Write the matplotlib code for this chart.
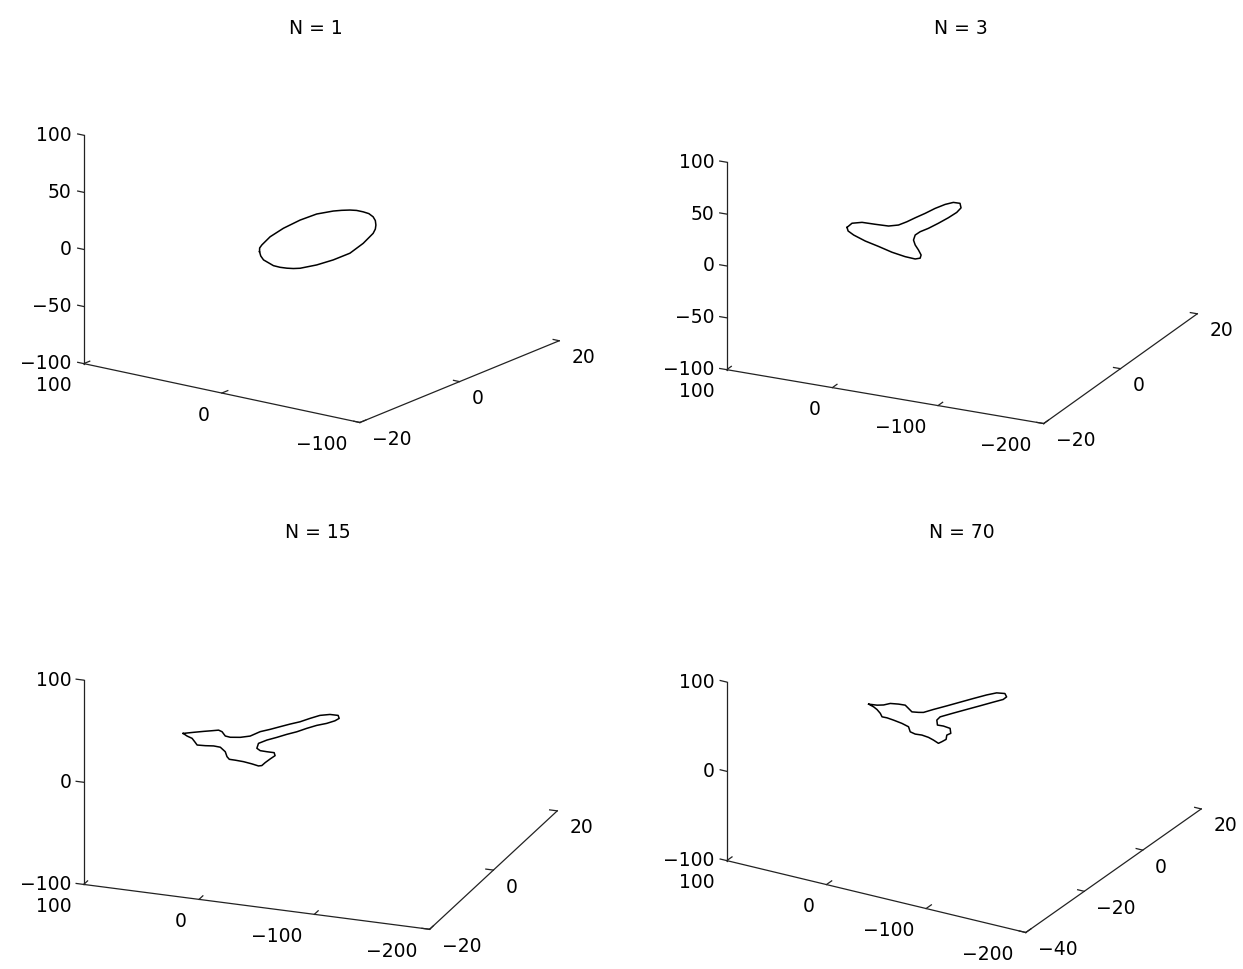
import numpy as np
import matplotlib.pyplot as plt
from mpl_toolkits.mplot3d import proj3d

plt.rcParams['font.family'] = ['DejaVu Sans']

titles = ["N = 1", "N = 3", "N = 15", "N = 70"]

# outlines, all drawn in the plane y = 0
x_n1 = [44.9, 44.0, 42.0, 34.8, 30.0, 25.1, 20.4, 15.5, 3.5, -8.5, -20.6, -30.2, -37.4, -39.0,
        -39.4, -39.0, -37.4, -34.3, -30.2, -25.4, -20.6, -14.6, -8.5, 3.5, 15.5, 27.6, 37.2,
        43.2, 44.8]
z_n1 = [-23.5, -27.1, -30.0, -33.2, -33.4, -32.9, -32.0, -30.5, -24.5, -17.0, -8.0, 3.1, 13.7, 17.9,
        21.5, 25.3, 28.2, 30.2, 30.7, 30.7, 29.8, 28.0, 25.8, 20.1, 11.7, 1.4, -8.5,
        -17.2, -20.3]

x_n3 = [58.8, 54.1, 44.6, 32.1, 19.5, 10.1, 2.2, -5.7, -15.1, -24.5, -34.0, -41.8,
        -48.1, -49.1, -45.0, -37.1, -27.6, -18.2, -10.4, -5.7, -4.1, -5.7, -8.8, -11.3,
        -10.4, -5.7, 3.8, 16.3, 29.0, 41.5, 52.5, 57.8]
z_n3 = [-8.6, -3.8, -1.3, -1.0, -0.5, 2.1, 6.6, 11.8, 17.7, 24.1, 29.6, 32.9,
        33.1, 28.9, 23.8, 17.3, 10.3, 3.8, -0.8, -4.8, -9.9, -14.4, -18.7, -23.1,
        -26.3, -27.9, -27.3, -25.2, -21.8, -18.8, -14.9, -11.9]

x_n15 = [69.1, 60.0, 51.3, 44.1, 38.4, 35.4, 32.6, 28.3, 19.6, 11.0, 2.3, -6.3, -15.0,
         -23.6, -32.2, -40.9, -49.5, -58.2, -65.3, -66.2, -62.5, -55.3, -46.7, -38.0,
         -29.4, -20.7, -12.1, -3.5, 3.8, 5.2, 2.3, -3.5, -9.8, -10.6, -6.3, -2.0, 0.9,
         3.8, 9.5, 16.8, 23.9, 29.1, 31.1, 32.6, 36.9, 42.7, 49.9, 57.0, 59.1, 61.4, 65.7]
z_n15 = [-5.6, -3.2, -1.0, 0.7, 2.1, 1.0, -2.8, -3.4, -2.2, 0.3, 5.9, 9.4, 13.3,
         17.1, 20.6, 25.2, 29.4, 31.6, 31.7, 28.9, 26.0, 22.4, 19.2, 15.0,
         10.4, 6.6, 2.4, -1.5, -5.8, -10.8, -12.7, -12.9, -12.9, -15.7, -19.6, -23.8, -27.1,
         -27.9, -26.7, -25.6, -25.2, -25.1, -22.8, -18.2, -14.4, -14.0, -14.8, -15.2, -12.3, -9.3, -7.7]

x_n70 = [75.0, 66.6, 60.0, 53.3, 45.0, 38.3, 35.0, 31.6, 25.0, 20.0, 10.0, -3.4, -16.7,
         -30.0, -43.4, -53.4, -61.7, -63.4, -60.0, -50.0, -36.7, -23.4, -10.0, 3.3, 6.6,
         6.0, 0.0, -6.7, -7.4, -3.4, -2.7, 1.6, 5.0, 10.0, 15.0, 21.6, 28.3, 33.3, 35.0,
         41.6, 50.0, 56.6, 61.6, 63.3, 66.6, 70.0]
z_n70 = [-10.3, -9.2, -7.2, -3.7, -2.2, -1.6, -4.4, -7.3, -6.1, -4.8, 1.2, 8.8, 16.5,
         24.2, 31.8, 36.8, 38.3, 35.0, 31.2, 25.5, 17.8, 10.2, 2.5, -5.3, -9.8,
         -15.2, -14.7, -15.5, -20.9, -23.9, -28.9, -32.7, -35.4, -33.1, -31.4, -30.6, -31.3, -30.1, -24.9,
         -22.9, -21.5, -20.7, -20.9, -17.5, -14.1, -12.0]

curves = [(x_n1, z_n1), (x_n3, z_n3), (x_n15, z_n15), (x_n70, z_n70)]

# axis limits and ticks (x runs reversed, as in the original)
xlims = [(100, -100), (100, -200), (100, -200), (100, -200)]
ylims = [(-20, 20), (-20, 20), (-20, 20), (-40, 20)]
zlim = (-100, 100)
xticks = [[100, 0, -100], [100, 0, -100, -200], [100, 0, -100, -200], [100, 0, -100, -200]]
yticks = [[-20, 0, 20], [-20, 0, 20], [-20, 0, 20], [-40, -20, 0, 20]]
zticks = [[-100, -50, 0, 50, 100], [-100, -50, 0, 50, 100], [-100, 0, 100], [-100, 0, 100]]

# view of each panel: box centre (px from top-left), elevation, azimuth, box edge lengths (px)
centers = [(321.5, 238), (962, 238), (320.5, 745.5), (964, 745.5)]
elevs = [17.2, 20.4, 20.3, 24.3]
azims = [-54.2, -64.0, -69.5, -59.7]
boxes = [(341.5, 341.9, 239.8), (353.8, 351.5, 222.0), (370.4, 365.6, 218.5), (347.4, 348.9, 196.5)]
title_pos = [(316, 28), (961, 28), (318, 533), (962, 533)]

FW, FH = 1243, 969
W = 640
FS = 13.5
SCALE = 0.957  # calibrated so the drawn box matches the pixel lengths above


def fmt(v):
    return str(v).replace('-', '\u2212')


fig = plt.figure(figsize=(FW / 100, FH / 100), dpi=100)

for i in range(4):
    ax = fig.add_axes([0, 0, W / FW, W / FH], projection='3d')
    ax.set_proj_type('ortho')
    x0, x1 = ax.viewLim.intervalx
    y0, y1 = ax.viewLim.intervaly
    fx = -x0 / (x1 - x0)
    fy = -y0 / (y1 - y0)
    cx, cy = centers[i]
    ax.set_position([(cx - fx * W) / FW, (FH - cy - fy * W) / FH, W / FW, W / FH])
    ax.set_axis_off()
    ax.patch.set_visible(False)

    L = np.array(boxes[i])
    zoom = SCALE * np.linalg.norm(L) * (x1 - x0) * 10 / (1.8294640721620434 * W)
    ax.set_box_aspect(L, zoom=zoom)
    ax.view_init(elev=elevs[i], azim=azims[i])

    xa, xb = xlims[i]
    ya, yb = ylims[i]
    za, zb = zlim
    xr = abs(xb - xa)
    yr = yb - ya
    tx = 0.022 * xr
    ty = 0.03 * yr

    # the curve
    cxs, czs = curves[i]
    xs = np.r_[cxs, cxs[:1]]
    zs = np.r_[czs, czs[:1]]
    ax.plot(xs, np.zeros_like(xs), zs, color='black', lw=1.1, clip_on=False)

    # axis lines and ticks
    lc = '#222222'
    ax.plot([xa, xb], [ya, ya], [za, za], color=lc, lw=0.9, clip_on=False)
    ax.plot([xb, xb], [ya, yb], [za, za], color=lc, lw=0.9, clip_on=False)
    ax.plot([xa, xa], [ya, ya], [za, zb], color=lc, lw=0.9, clip_on=False)
    for t in xticks[i]:
        ax.plot([t, t], [ya, ya + ty], [za, za], color=lc, lw=0.9, clip_on=False)
    for t in yticks[i]:
        ax.plot([xb, xb + tx], [t, t], [za, za], color=lc, lw=0.9, clip_on=False)
    for t in zticks[i]:
        ax.plot([xa, xa + tx], [ya, ya], [t, t], color=lc, lw=0.9, clip_on=False)

    ax.set_xlim(xa, xb)
    ax.set_ylim(ya, yb)
    ax.set_zlim(za, zb)

    M = ax.get_proj()

    def put(x, y, z, s, dx, dy, ha):
        px, py, _ = proj3d.proj_transform(x, y, z, M)
        ax.annotate(s, (px, py), xytext=(dx, dy), textcoords='offset pixels',
                    ha=ha, va='center', fontsize=FS, annotation_clip=False)

    for t in xticks[i]:
        put(t, ya, za, fmt(t), -12, -22, 'right')
    for t in yticks[i]:
        put(xb, t, za, fmt(t), 12, -17, 'left')
    for t in zticks[i]:
        put(xa, ya, t, fmt(t), -12, 0, 'right')

    tx_, ty_ = title_pos[i]
    fig.text(tx_ / FW, 1 - ty_ / FH, titles[i], ha='center', va='center', fontsize=FS)

fig.savefig('out.png', dpi=100, facecolor='white')
